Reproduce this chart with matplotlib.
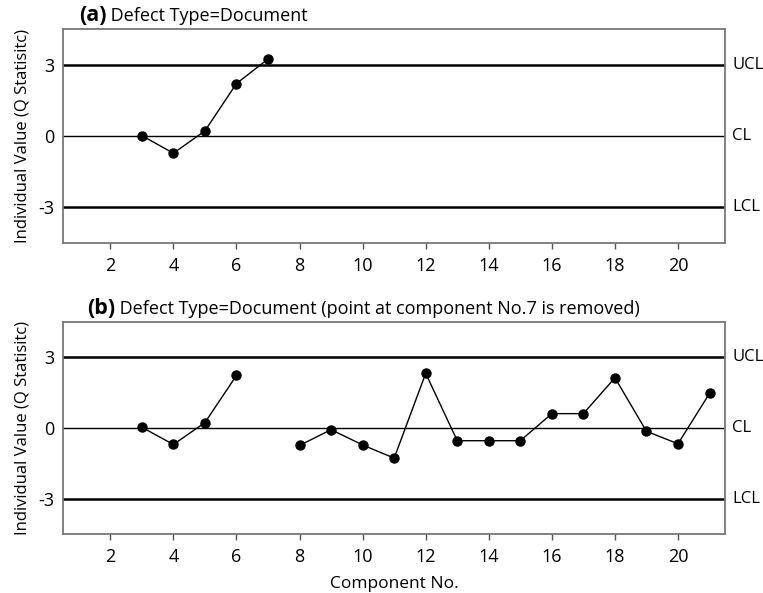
import numpy as np
import matplotlib
matplotlib.use("Agg")
import matplotlib.pyplot as plt

plt.rcParams['font.family'] = ['Open Sans', 'DejaVu Sans']
plt.rcParams['axes.unicode_minus'] = False

# data
comp_a = [3, 4, 5, 6, 7]
q_a = [0.02, -0.72, 0.22, 2.21, 3.24]

comp_b = [3, 4, 5, 6, 7, 8, 9, 10, 11, 12, 13, 14, 15, 16, 17, 18, 19, 20, 21]
q_b = [0.03, -0.70, 0.23, 2.23, np.nan, -0.74, -0.07, -0.72, -1.28, 2.32,
       -0.54, -0.54, -0.54, 0.61, 0.61, 2.13, -0.14, -0.67, 1.47]

limits = [3, 0, -3]
limit_names = ['UCL', 'CL', 'LCL']
xticks = [2, 4, 6, 8, 10, 12, 14, 16, 18, 20]
yticks = [-3, 0, 3]

titles = [('(a)', 'Defect Type=Document'),
          ('(b)', 'Defect Type=Document (point at component No.7 is removed)')]
title_x = [0.024, 0.036]

fig = plt.figure(figsize=(7.63, 5.93), dpi=100)
ax1 = fig.add_axes([0.0826, 0.590, 0.868, 0.361])
ax2 = fig.add_axes([0.0826, 0.0995, 0.868, 0.3575])

for i, (ax, x, y) in enumerate([(ax1, comp_a, q_a), (ax2, comp_b, q_b)]):
    lab, ttl = titles[i]
    for lim, name in zip(limits, limit_names):
        lw = 1.0 if lim == 0 else 1.8
        ax.axhline(lim, color='black', lw=lw, zorder=1)
        ax.annotate(name, xy=(1, lim), xycoords=('axes fraction', 'data'),
                    xytext=(5, 0), textcoords='offset points',
                    va='center', ha='left', fontsize=12)
    ax.plot(x, y, color='black', lw=1.0, marker='o', ms=6.5, zorder=3)
    ax.set_xlim(0.5, 21.5)
    ax.set_ylim(-4.5, 4.5)
    ax.set_xticks(xticks)
    ax.set_yticks(yticks)
    ax.tick_params(axis='x', length=4, width=1, color='#555555', labelsize=13, pad=6)
    ax.tick_params(axis='y', length=0, labelsize=13, pad=6)
    for s in ax.spines.values():
        s.set_color('#777777')
        s.set_linewidth(1.3)
    ax.set_ylabel('Individual Value (Q Statisitc)', fontsize=12, labelpad=6)
    t = ax.text(title_x[i], 1.012, lab, transform=ax.transAxes, fontsize=15.5,
                fontweight='bold', va='bottom', ha='left')
    ax.annotate(' ' + ttl, xy=(1, 0.08), xycoords=t, va='bottom', ha='left', fontsize=13)

ax2.set_xlabel('Component No.', fontsize=12.5, labelpad=7)

fig.savefig('out.png', dpi=100)
